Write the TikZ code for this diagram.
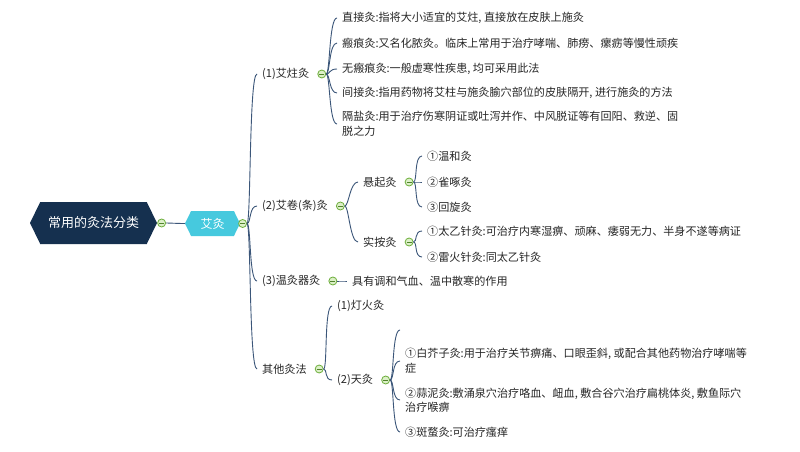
\documentclass[tikz,border=0pt]{standalone}
\usepackage{fontspec}
\setmainfont{Noto Sans CJK SC}
\usepackage{xcolor}
\usepackage{tikz}
\usetikzlibrary{positioning,shapes.symbols}
\definecolor{rootblue}{HTML}{15304F}
\definecolor{aicyan}{HTML}{46C9DE}
\definecolor{linkblue}{HTML}{3B5679}
\definecolor{foldgreen}{HTML}{6DAE3C}
\definecolor{foldfill}{HTML}{DCF0C8}

\begin{document}
\begin{tikzpicture}[x=1pt,y=-1pt,every node/.style={font=\fontsize{11.1}{14.5}\selectfont,text=black!85},
  topic/.style={anchor=west,align=left,inner xsep=5pt,inner ysep=1pt},
  hub/.style={signal,signal to=west and east,signal pointer angle=128,text=white,inner sep=0pt},
  fold/.style={circle,draw=foldgreen,fill=foldfill,line width=0.8pt,minimum size=8pt,inner sep=0pt,
    path picture={\draw[foldgreen!75!black,line width=0.9pt] ([xshift=-2.6pt]path picture bounding box.center)--([xshift=2.6pt]path picture bounding box.center);}},
  link/.style={draw=linkblue,line width=0.9pt,to path={.. controls +(4,0) and +(-8,0) .. (\tikztotarget)}}]
  \fill[white] (0,0) rectangle (800,452);
  \useasboundingbox (0,0) rectangle (800,452);
  % centre
  \node[hub,fill=rootblue,minimum width=127pt,minimum height=42pt,font=\fontsize{13}{15}\selectfont] (root) at (93.5,223) {常用的灸法分类};
  \node[fold,right=0pt of root] (froot) {};
  \node[hub,fill=aicyan,minimum width=55pt,minimum height=25pt,font=\fontsize{12}{14}\selectfont] (aijiu) at (212.5,223.5) {艾灸};
  \node[fold,right=-2pt of aijiu] (fai) {};
  % first level
  \node[topic] (zhu) at (257,74) {(1)艾炷灸};
  \node[fold,right=3pt of zhu] (fzhu) {};
  \node[topic] (juan) at (257,206) {(2)艾卷(条)灸};
  \node[fold,right=3pt of juan] (fjuan) {};
  \node[topic] (wen) at (257,281) {(3)温灸器灸};
  \node[fold,right=3pt of wen] (fwen) {};
  \node[topic] (qita) at (257,369) {其他灸法};
  \node[fold,right=3pt of qita] (fqita) {};
  % (1) 艾炷灸
  \node[topic] (zj) at (337,18) {直接灸:指将大小适宜的艾炷, 直接放在皮肤上施灸};
  \node[topic] (bh) at (337,43) {瘢痕灸:又名化脓灸。临床上常用于治疗哮喘、肺痨、瘰疬等慢性顽疾};
  \node[topic] (wbh) at (337,69) {无瘢痕灸:一般虚寒性疾患, 均可采用此法};
  \node[topic] (jj) at (337,93) {间接灸:指用药物将艾柱与施灸腧穴部位的皮肤隔开, 进行施灸的方法};
  \node[topic] (gy) at (337,124) {隔盐灸:用于治疗伤寒阴证或吐泻并作、中风脱证等有回阳、救逆、固\\脱之力};
  % (2) 艾卷灸
  \node[topic] (xuan) at (358,182) {悬起灸};
  \node[fold,right=3pt of xuan] (fxuan) {};
  \node[topic] (shi) at (358,242) {实按灸};
  \node[fold,right=3pt of shi] (fshi) {};
  \node[topic] (wh) at (422,156) {①温和灸};
  \node[topic] (qz) at (422,182) {②雀啄灸};
  \node[topic] (hx) at (422,207) {③回旋灸};
  \node[topic] (ty) at (422,231) {①太乙针灸:可治疗内寒湿痹、顽麻、痿弱无力、半身不遂等病证};
  \node[topic] (lh) at (422,257) {②雷火针灸:同太乙针灸};
  % (3) 温灸器灸
  \node[topic] (wenz) at (347,281) {具有调和气血、温中散寒的作用};
  % 其他灸法
  \node[topic] (deng) at (332,306) {(1)灯火灸};
  \node[topic] (tian) at (332,380) {(2)天灸};
  \node[fold,right=3pt of tian] (ftian) {};
  \coordinate (tk) at (400,330);
  \node[topic] (bjz) at (400,361) {①白芥子灸:用于治疗关节痹痛、口眼歪斜, 或配合其他药物治疗哮喘等\\症};
  \node[topic] (sn) at (400,400) {②蒜泥灸:敷涌泉穴治疗咯血、衄血, 敷合谷穴治疗扁桃体炎, 敷鱼际穴\\治疗喉痹};
  \node[topic] (bm) at (400,432) {③斑蝥灸:可治疗瘙痒};
  % links
  \draw[link] (froot.east) to (aijiu.west);
  \draw[link] (fai.east) to (zhu.west); \draw[link] (fai.east) to (juan.west);
  \draw[link] (fai.east) to (wen.west); \draw[link] (fai.east) to (qita.west);
  \draw[link] (fzhu.east) to (zj.west); \draw[link] (fzhu.east) to (bh.west); \draw[link] (fzhu.east) to (wbh.west);
  \draw[link] (fzhu.east) to (jj.west); \draw[link] (fzhu.east) to (gy.west);
  \draw[link] (fjuan.east) to (xuan.west); \draw[link] (fjuan.east) to (shi.west);
  \draw[link] (fxuan.east) to (wh.west); \draw[link] (fxuan.east) to (qz.west); \draw[link] (fxuan.east) to (hx.west);
  \draw[link] (fshi.east) to (ty.west); \draw[link] (fshi.east) to (lh.west);
  \draw[link] (fwen.east) to (wenz.west);
  \draw[link] (fqita.east) to (deng.west); \draw[link] (fqita.east) to (tian.west);
  \draw[link] (ftian.east) to (tk); \draw[link] (ftian.east) to (bjz.west);
  \draw[link] (ftian.east) to (sn.west); \draw[link] (ftian.east) to (bm.west);
\end{tikzpicture}
\end{document}
